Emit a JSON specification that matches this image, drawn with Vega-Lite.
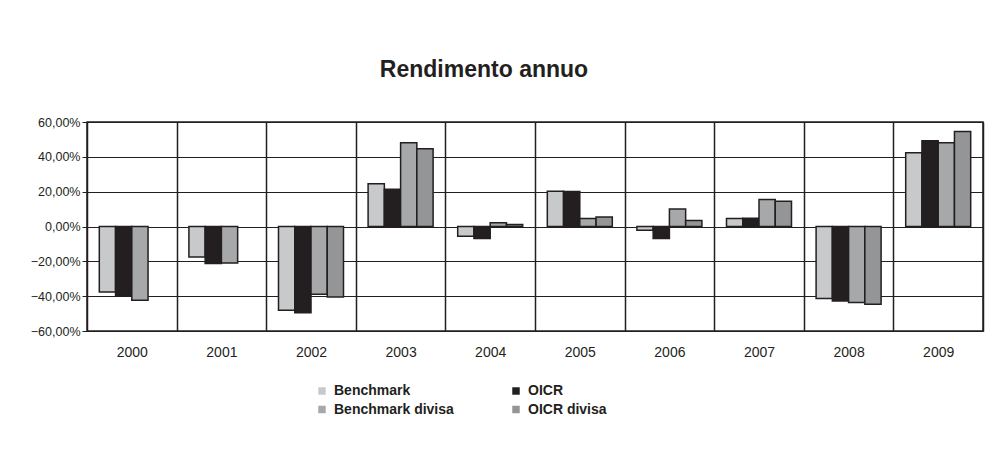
{
  "$schema": "https://vega.github.io/schema/vega-lite/v6.json",
  "autosize": {"type": "none"},
  "padding": {"left": 87, "top": 122, "right": 22, "bottom": 123},
  "width": 896,
  "height": 209,
  "background": "#ffffff",
  "title": {
    "text": "Rendimento annuo",
    "font": "Liberation Sans",
    "fontSize": 23,
    "fontWeight": "bold",
    "color": "#231f20",
    "anchor": "middle",
    "frame": "group",
    "baseline": "alphabetic",
    "offset": 16,
    "dx": -51
  },
  "data": {
    "values": [
      {"year": "2000", "series": "Benchmark", "value": -0.376},
      {"year": "2000", "series": "OICR", "value": -0.395},
      {"year": "2000", "series": "Benchmark divisa", "value": -0.424},
      {"year": "2001", "series": "Benchmark", "value": -0.175},
      {"year": "2001", "series": "OICR", "value": -0.213},
      {"year": "2001", "series": "Benchmark divisa", "value": -0.21},
      {"year": "2002", "series": "Benchmark", "value": -0.481},
      {"year": "2002", "series": "OICR", "value": -0.495},
      {"year": "2002", "series": "Benchmark divisa", "value": -0.389},
      {"year": "2002", "series": "OICR divisa", "value": -0.405},
      {"year": "2003", "series": "Benchmark", "value": 0.245},
      {"year": "2003", "series": "OICR", "value": 0.214},
      {"year": "2003", "series": "Benchmark divisa", "value": 0.481},
      {"year": "2003", "series": "OICR divisa", "value": 0.446},
      {"year": "2004", "series": "Benchmark", "value": -0.056},
      {"year": "2004", "series": "OICR", "value": -0.069},
      {"year": "2004", "series": "Benchmark divisa", "value": 0.021},
      {"year": "2004", "series": "OICR divisa", "value": 0.011},
      {"year": "2005", "series": "Benchmark", "value": 0.203},
      {"year": "2005", "series": "OICR", "value": 0.201},
      {"year": "2005", "series": "Benchmark divisa", "value": 0.046},
      {"year": "2005", "series": "OICR divisa", "value": 0.055},
      {"year": "2006", "series": "Benchmark", "value": -0.021},
      {"year": "2006", "series": "OICR", "value": -0.069},
      {"year": "2006", "series": "Benchmark divisa", "value": 0.1},
      {"year": "2006", "series": "OICR divisa", "value": 0.034},
      {"year": "2007", "series": "Benchmark", "value": 0.046},
      {"year": "2007", "series": "OICR", "value": 0.048},
      {"year": "2007", "series": "Benchmark divisa", "value": 0.155},
      {"year": "2007", "series": "OICR divisa", "value": 0.145},
      {"year": "2008", "series": "Benchmark", "value": -0.414},
      {"year": "2008", "series": "OICR", "value": -0.428},
      {"year": "2008", "series": "Benchmark divisa", "value": -0.437},
      {"year": "2008", "series": "OICR divisa", "value": -0.447},
      {"year": "2009", "series": "Benchmark", "value": 0.423},
      {"year": "2009", "series": "OICR", "value": 0.492},
      {"year": "2009", "series": "Benchmark divisa", "value": 0.481},
      {"year": "2009", "series": "OICR divisa", "value": 0.546}
    ]
  },
  "mark": {"type": "bar", "stroke": "#231f20", "strokeWidth": 1.5},
  "encoding": {
    "x": {
      "field": "year",
      "type": "nominal",
      "scale": {"paddingInner": 0, "paddingOuter": 0},
      "axis": {
        "title": null,
        "labelAngle": 0,
        "ticks": false,
        "domain": false,
        "grid": true,
        "tickBand": "extent",
        "gridColor": "#231f20",
        "gridOpacity": 1,
        "gridWidth": 1.5,
        "labelFont": "Liberation Sans",
        "labelFontSize": 14,
        "labelColor": "#231f20",
        "labelPadding": 14
      }
    },
    "xOffset": {
      "field": "series",
      "type": "nominal",
      "sort": ["Benchmark", "OICR", "Benchmark divisa", "OICR divisa"],
      "scale": {"paddingInner": 0, "paddingOuter": 0.757}
    },
    "y": {
      "field": "value",
      "type": "quantitative",
      "scale": {"domain": [-0.6, 0.6], "nice": false, "zero": true},
      "axis": {
        "title": null,
        "values": [-0.6, -0.4, -0.2, 0, 0.2, 0.4, 0.6],
        "format": ".2%",
        "domain": false,
        "grid": true,
        "gridColor": "#231f20",
        "gridOpacity": 1,
        "gridWidth": 1.2,
        "ticks": true,
        "tickSize": 5,
        "tickColor": "#231f20",
        "labelFont": "Liberation Sans",
        "labelFontSize": 12.5,
        "labelColor": "#231f20",
        "labelPadding": 2
      }
    },
    "color": {
      "field": "series",
      "type": "nominal",
      "sort": ["Benchmark", "OICR", "Benchmark divisa", "OICR divisa"],
      "scale": {
        "domain": ["Benchmark", "OICR", "Benchmark divisa", "OICR divisa"],
        "range": ["#c8c9cb", "#231f20", "#a7a8aa", "#949597"]
      },
      "legend": {
        "title": null,
        "orient": "none",
        "direction": "horizontal",
        "legendX": 228,
        "legendY": 262,
        "columns": 2,
        "columnPadding": 55,
        "rowPadding": 4.5,
        "padding": 0,
        "symbolType": "square",
        "symbolSize": 56,
        "symbolStrokeWidth": 0,
        "labelFont": "Liberation Sans",
        "labelFontSize": 14,
        "labelFontWeight": "bold",
        "labelColor": "#231f20",
        "labelOffset": 5
      }
    }
  },
  "config": {
    "locale": {
      "number": {"decimal": ",", "thousands": ".", "grouping": [3], "currency": ["", " €"]}
    },
    "view": {"stroke": "#231f20", "strokeWidth": 1.5}
  }
}
